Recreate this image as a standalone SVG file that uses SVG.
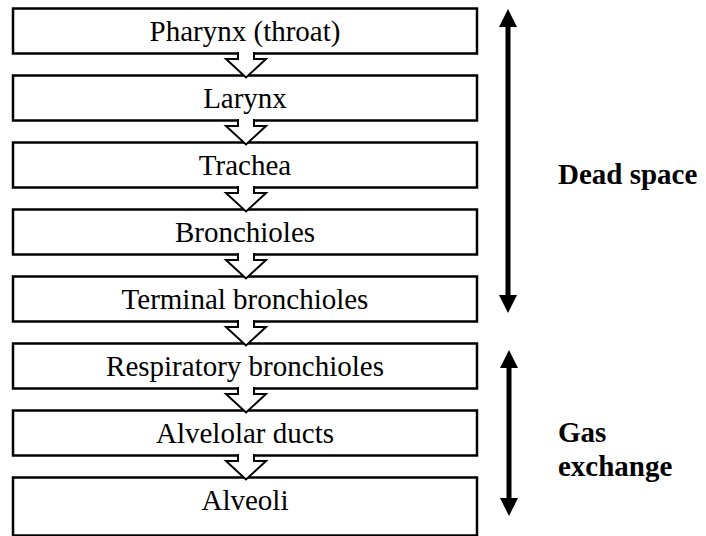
<svg xmlns="http://www.w3.org/2000/svg" width="706" height="536" viewBox="0 0 706 536">
  <defs>
    <style>
      .box { fill: #fff; stroke: #000; stroke-width: 2.5; }
      .lbl { font-family: "Liberation Serif", "Times New Roman", serif; font-size: 29px; text-anchor: middle; fill: #000; }
      .side { font-family: "Liberation Serif", "Times New Roman", serif; font-size: 29px; font-weight: bold; fill: #000; }
      .flow { fill: #fff; stroke: #000; stroke-width: 2; stroke-linejoin: miter; }
      .span { stroke: #000; stroke-width: 5; fill: none; }
    </style>
    <marker id="head" markerUnits="userSpaceOnUse" markerWidth="18" markerHeight="18" viewBox="0 0 18 18" refX="2" refY="9" orient="auto-start-reverse">
      <path d="M0,0 L18,9 L0,18 Z" fill="#000"/>
    </marker>
  </defs>
  <rect width="706" height="536" fill="#fff"/>

  <g id="n1"><rect class="box" x="13" y="8.5" width="464" height="45"/><text class="lbl" x="245" y="40.5">Pharynx (throat)</text></g>
  <g id="n2"><rect class="box" x="13" y="75.5" width="464" height="45"/><text class="lbl" x="245" y="107.5">Larynx</text></g>
  <g id="n3"><rect class="box" x="13" y="142.5" width="464" height="45"/><text class="lbl" x="245" y="174.5">Trachea</text></g>
  <g id="n4"><rect class="box" x="13" y="209.5" width="464" height="45"/><text class="lbl" x="245" y="241.5">Bronchioles</text></g>
  <g id="n5"><rect class="box" x="13" y="276.5" width="464" height="45"/><text class="lbl" x="245" y="308.5">Terminal bronchioles</text></g>
  <g id="n6"><rect class="box" x="13" y="343.5" width="464" height="45"/><text class="lbl" x="245" y="375.5">Respiratory bronchioles</text></g>
  <g id="n7"><rect class="box" x="13" y="410.5" width="464" height="45"/><text class="lbl" x="245" y="442.5">Alvelolar ducts</text></g>
  <g id="n8"><rect class="box" x="13" y="477.5" width="464" height="58"/><text class="lbl" x="245" y="509.5">Alveoli</text></g>

  <g id="connectors">
    <path class="flow" d="M238,52 V59 H226 L246,77.5 L266,59 H254 V52"/>
    <path class="flow" d="M238,119 V126 H226 L246,144.5 L266,126 H254 V119"/>
    <path class="flow" d="M238,186 V193 H226 L246,211.5 L266,193 H254 V186"/>
    <path class="flow" d="M238,253 V260 H226 L246,278.5 L266,260 H254 V253"/>
    <path class="flow" d="M238,320 V327 H226 L246,345.5 L266,327 H254 V320"/>
    <path class="flow" d="M238,387 V394 H226 L246,412.5 L266,394 H254 V387"/>
    <path class="flow" d="M238,454 V461 H226 L246,479.5 L266,461 H254 V454"/>
  </g>

  <g id="dead-space">
    <line class="span" x1="508" y1="25" x2="508" y2="297" marker-start="url(#head)" marker-end="url(#head)"/>
    <text class="side" x="558" y="184">Dead space</text>
  </g>
  <g id="gas-exchange">
    <line class="span" x1="509" y1="366" x2="509" y2="500" marker-start="url(#head)" marker-end="url(#head)"/>
    <text class="side" x="558" y="442">Gas</text>
    <text class="side" x="558" y="476">exchange</text>
  </g>
</svg>
